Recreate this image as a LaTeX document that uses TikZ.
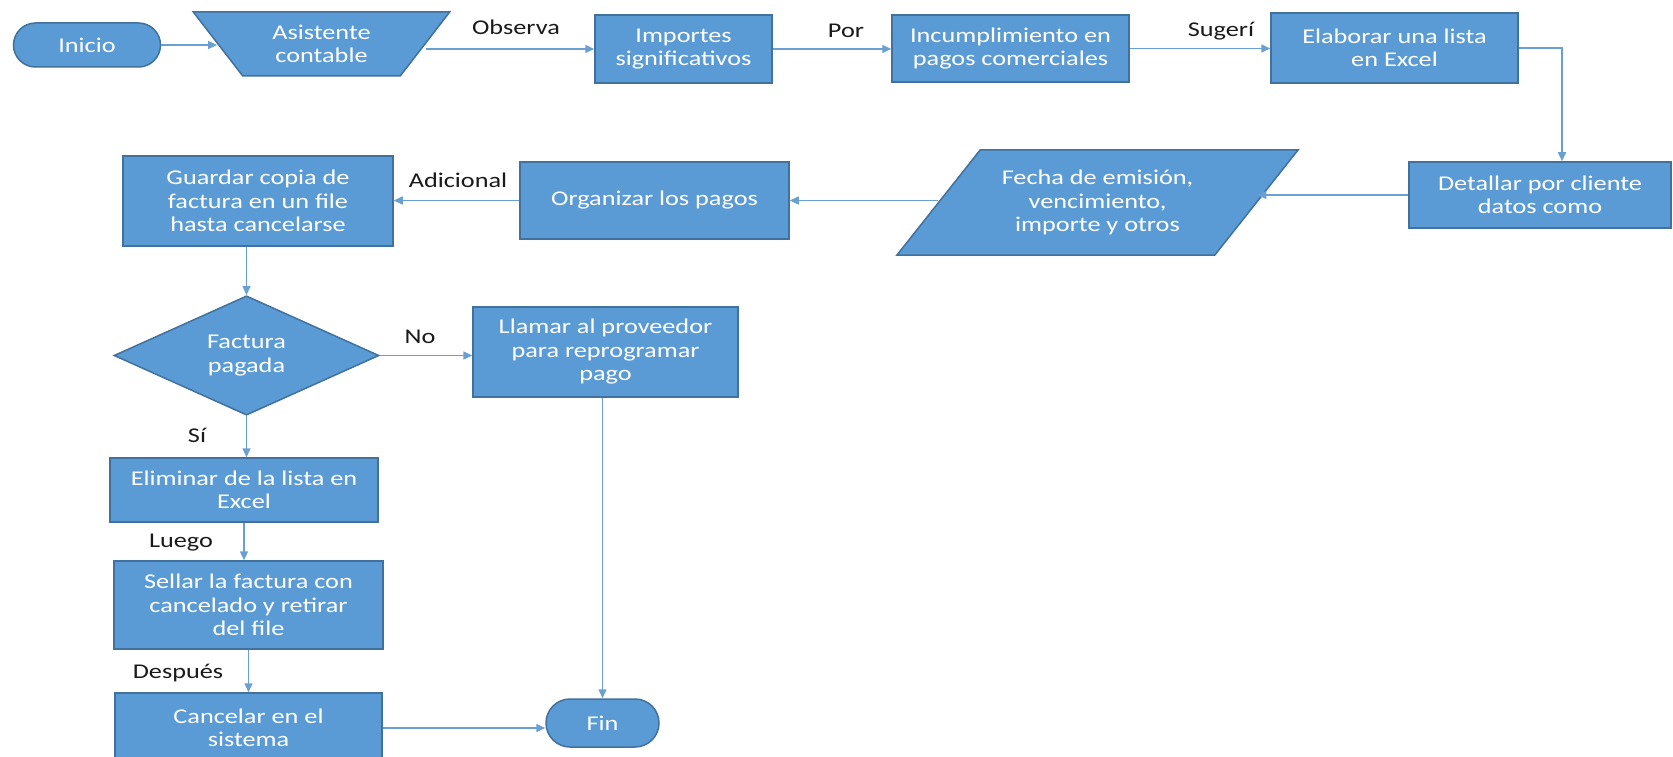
\documentclass[tikz,border=0pt]{standalone}
\usepackage{fontspec}
\setmainfont{Carlito}[FakeStretch=1.25]
\usetikzlibrary{shapes.geometric,shapes.misc,arrows.meta,calc}
\definecolor{boxfill}{HTML}{5B9BD5}
\definecolor{boxline}{HTML}{41719C}
\definecolor{connc}{HTML}{6A9FD2}
\definecolor{lblc}{HTML}{1A1A1A}
\begin{document}
\begin{tikzpicture}[x=1pt,y=-1pt,
  every node/.style={font=\fontsize{21}{23.5}\selectfont},
  blk/.style={draw=boxline, line width=1.5pt, fill=boxfill, text=white, align=center, inner sep=0pt},
  procbox/.style={blk, rectangle},
  termbox/.style={blk, rounded rectangle},
  conn/.style={draw=connc, line width=1.5pt, -{Triangle[length=9pt,width=8pt]}},
  lbl/.style={text=lblc, inner sep=0pt}
]
\useasboundingbox (0,0) rectangle (1673,757);
\fill[white] (0,0) rectangle (1673,757);

% row 1
\node[termbox, minimum width=147, minimum height=44] (inicio) at (87,45) {Inicio};
\node[blk, trapezium, shape border rotate=180, trapezium left angle=51, trapezium right angle=51,
      trapezium stretches=true, minimum width=257, minimum height=64] (asis) at (321.5,44) {Asistente\\contable};
\node[procbox, minimum width=177, minimum height=68] (imp) at (683.5,49) {Importes\\significativos};
\node[procbox, minimum width=237, minimum height=67] (inc) at (1010.5,48.5) {Incumplimiento en\\pagos comerciales};
\node[procbox, minimum width=247, minimum height=70] (ela) at (1394.5,48) {Elaborar una lista\\en Excel};

% row 2
\node[procbox, minimum width=262, minimum height=66] (det) at (1540,195) {Detallar por cliente\\datos como};
\node[blk, trapezium, trapezium left angle=38, trapezium right angle=142,
      trapezium stretches body=true, minimum width=401, minimum height=105] (fecha) at (1097.5,202.5) {Fecha de emisión,\\vencimiento,\\importe y otros};
\node[procbox, minimum width=269, minimum height=77] (org) at (654.5,200.5) {Organizar los pagos};
\node[procbox, minimum width=270, minimum height=90] (gua) at (258,201) {Guardar copia de\\factura en un file\\hasta cancelarse};

% decision
\node[blk, diamond, minimum width=265, minimum height=117] (dia) at (246.5,355.5) {Factura\\pagada};
\node[procbox, minimum width=265, minimum height=90] (lla) at (605.5,352) {Llamar al proveedor\\para reprogramar\\pago};

% column
\node[procbox, minimum width=268, minimum height=64] (eli) at (244,490) {Eliminar de la lista en\\Excel};
\node[procbox, minimum width=269, minimum height=88] (sel) at (248.5,605) {Sellar la factura con\\cancelado y retirar\\del file};
\node[procbox, minimum width=267, minimum height=70] (can) at (248.5,728) {Cancelar en el\\sistema};
\node[termbox, minimum width=113, minimum height=48] (fin) at (602.5,723) {Fin};

% connectors
\draw[conn] (inicio.east) -- (inicio.east -| asis.west);
\draw[conn] (imp.west -| asis.east) -- (imp.west);
\draw[conn] (imp.east) -- (imp.east -| inc.west);
\draw[conn] (inc.east) -- (inc.east -| ela.west);
\draw[conn] (ela.east) -| ($(det.north)+(22,0)$);
\draw[conn] (det.west) -- (det.west -| fecha.east);
\draw[conn] (org.east -| fecha.west) -- (org.east);
\draw[conn] (org.west) -- (org.west -| gua.east);
\draw[conn] (gua.south -| dia.north) -- (dia.north);
\draw[conn] (dia.east) -- (dia.east -| lla.west);
\draw[conn] (dia.south) -- (dia.south |- eli.north);
\draw[conn] (eli.south) -- (eli.south |- sel.north);
\draw[conn] (sel.south) -- (sel.south |- can.north);
\draw[conn] (can.east) -- (can.east -| fin.west);
\draw[conn] (fin.north |- lla.south) -- (fin.north);

% labels
\node[lbl] (lobs) at (516,27) {Observa};
\node[lbl] (lpor) at (846,31) {Por};
\node[lbl] (lsug) at (1221,31) {Sugerí};
\node[lbl] (ladi) at (458,180) {Adicional};
\node[lbl] (lno) at (420,337) {No};
\node[lbl] (lsi) at (197,435) {Sí};
\node[lbl] (llue) at (181,543) {Luego};
\node[lbl] (ldes) at (178,673) {Después};
\end{tikzpicture}
\end{document}
